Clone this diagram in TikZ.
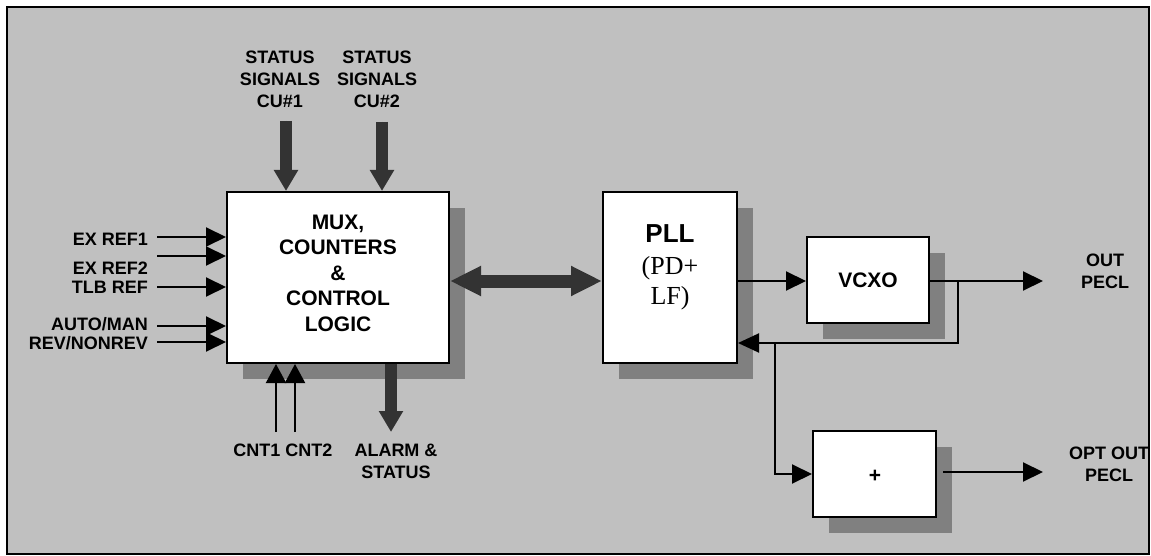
\documentclass[tikz,border=0pt]{standalone}
\usepackage{fontspec}
\setmainfont{Liberation Sans}
\newfontfamily\seriffont{Liberation Serif}
\usetikzlibrary{arrows.meta,shadows}
\definecolor{bggray}{HTML}{C0C0C0}
\definecolor{shgray}{HTML}{808080}
\definecolor{darkarrow}{HTML}{333333}
\tikzset{
  blockbox/.style={draw=black, line width=2pt, fill=white, inner sep=0pt,
    drop shadow={shadow xshift=16pt, shadow yshift=-16pt, opacity=1, fill=shgray}},
  lbl/.style={font=\fontsize{18}{22}\selectfont\bfseries, align=center, inner sep=0pt},
  boxtxt/.style={font=\fontsize{21}{25.5}\selectfont\bfseries, align=center, inner sep=0pt},
  thin/.style={line width=2pt, -{Triangle[length=20pt,width=19pt]}},
  thick/.style={line width=12pt, draw=darkarrow, -{Triangle[length=21pt,width=23pt]}, fill=darkarrow},
}
\begin{document}
\begin{tikzpicture}[x=1pt,y=-1pt]
\useasboundingbox (0,0) rectangle (1151,556);
\fill[bggray] (7,7) rectangle (1149,554);

% blocks
\node[blockbox, minimum width=222pt, minimum height=171pt] (mux) at (338,277.5) {};
\node[blockbox, minimum width=134pt, minimum height=171pt] (pll) at (670,277.5) {};
\node[blockbox, minimum width=122pt, minimum height=86pt] (vcxo) at (868,280) {};
\node[blockbox, minimum width=123pt, minimum height=86pt] (plus) at (874.5,474) {};

% block texts
\node[boxtxt] (muxt) at (338,273) {MUX,\\COUNTERS\\\&\\CONTROL\\LOGIC};
\node[font=\fontsize{26}{30}\selectfont\bfseries, inner sep=0pt] (pllt) at (670,234) {PLL};
\node[font=\fontsize{26}{30}\selectfont\seriffont, align=center, inner sep=0pt] (pllsub) at (670,283) {(PD+\\LF)};
\node[boxtxt] (vcxot) at (868,280) {VCXO};
\node[font=\fontsize{21}{25}\selectfont\bfseries, inner sep=0pt] (plust) at (875,476) {+};

% left inputs
\coordinate (i1) at (157,237);
\coordinate (i2) at (157,256);
\coordinate (i3) at (157,287);
\coordinate (i4) at (157,326);
\coordinate (i5) at (157,342);
\foreach \c in {i1,i2,i3,i4,i5} \draw[thin] (\c) -- (\c -| mux.west);
\node[lbl, anchor=east] (l1) at (148,239) {EX REF1};
\node[lbl, anchor=east] (l2) at (148,268) {EX REF2};
\node[lbl, anchor=east] (l3) at (148,287) {TLB REF};
\node[lbl, anchor=east] (l4) at (148,324) {AUTO/MAN};
\node[lbl, anchor=east] (l5) at (148,343) {REV/NONREV};

% status inputs
\coordinate (s1) at (286,121);
\coordinate (s2) at (382,122);
\draw[thick] (s1) -- (s1 |- mux.north);
\draw[thick] (s2) -- (s2 |- mux.north);
\node[lbl] (st1) at (280,79) {STATUS\\SIGNALS\\CU\#1};
\node[lbl] (st2) at (377,79) {STATUS\\SIGNALS\\CU\#2};

% counters
\coordinate (c1) at (276,432);
\coordinate (c2) at (295,432);
\draw[line width=2pt, -{Triangle[length=19pt,width=20pt]}] (c1) -- (c1 |- mux.south);
\draw[line width=2pt, -{Triangle[length=19pt,width=20pt]}] (c2) -- (c2 |- mux.south);
\node[lbl] (cnt) at (283,450) {CNT1 CNT2};

% alarm
\coordinate (a1) at (391,432);
\draw[thick] (a1 |- mux.south) -- (a1);
\node[lbl] (alarm) at (396,461) {ALARM \&\\STATUS};

% bus
\draw[line width=13pt, draw=darkarrow, {Triangle[length=31pt,width=28pt]}-{Triangle[length=31pt,width=28pt]}]
  (mux.east |- 0,281) -- (pll.west |- 0,281);

% PLL -> VCXO
\draw[thin] (pll.east |- 0,281) -- (vcxo.west |- 0,281);
% VCXO out
\coordinate (o1) at (1043,281);
\draw[thin] (vcxo.east |- o1) -- (o1);
\node[lbl] (outl) at (1105,271) {OUT\\PECL};

% feedback
\coordinate (f1) at (958,281);
\coordinate (f2) at (958,343);
\coordinate (f3) at (775,343);
\draw[line width=2pt, -{Triangle[length=21pt,width=19pt]}] (f1) -- (f2) -- (f2 -| pll.east);
\draw[thin] (f3) |- (plus.west);

% plus out
\coordinate (p1) at (943,472);
\coordinate (p2) at (1043,472);
\draw[thin] (p1) -- (p2);
\node[lbl] (optl) at (1109,464) {OPT OUT\\PECL};

% frame
\draw[line width=2.5pt] (7,7) rectangle (1149,554);
\end{tikzpicture}
\end{document}
